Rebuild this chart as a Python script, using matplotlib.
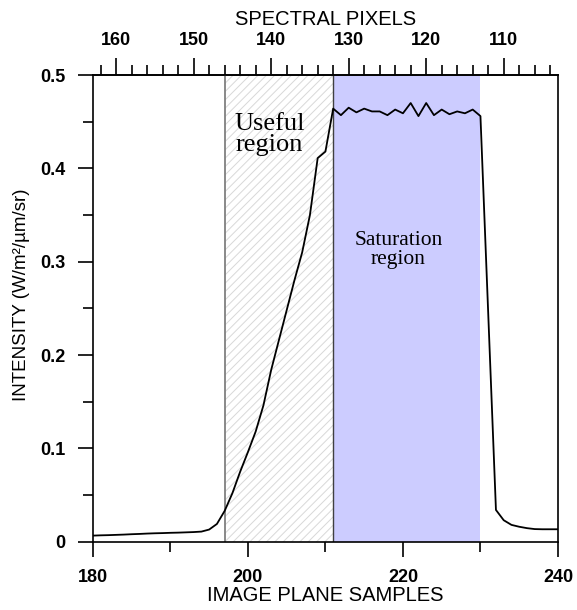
import matplotlib
matplotlib.use("Agg")
import matplotlib.pyplot as plt
from matplotlib.ticker import MultipleLocator, FixedLocator

plt.rcParams['font.family'] = ['Liberation Sans', 'DejaVu Sans']
plt.rcParams['hatch.linewidth'] = 0.7

# image plane samples and measured intensity
samples = list(range(180, 241))
intensity = [
    0.0065, 0.0068, 0.0070, 0.0073, 0.0076, 0.0080, 0.0083, 0.0087, 0.0090, 0.0092,
    0.0095, 0.0097, 0.0100, 0.0103, 0.0108, 0.0130, 0.0190, 0.0330, 0.0520, 0.0750,
    0.0960, 0.1180, 0.1460, 0.1840, 0.2160, 0.2480, 0.2800, 0.3100, 0.3500, 0.4110,
    0.4180, 0.4640, 0.4570, 0.4650, 0.4600, 0.4640, 0.4610, 0.4610, 0.4570, 0.4630,
    0.4590, 0.4700, 0.4560, 0.4700, 0.4570, 0.4630, 0.4580, 0.4610, 0.4590, 0.4630,
    0.4560, 0.2450, 0.0340, 0.0230, 0.0180, 0.0160, 0.0145, 0.0135, 0.0133, 0.0133,
    0.0133,
]

useful_region = (197, 211)
saturation_region = (211, 230)
pixel_offset = 343  # spectral pixel = offset - sample

x_major = [180, 200, 220, 240]
x_minor = [190, 210, 230]
y_major = [0, 0.1, 0.2, 0.3, 0.4, 0.5]
y_labels = ['0', '0.1', '0.2', '0.3', '0.4', '0.5']
spec_major = [160, 150, 140, 130, 120, 110]

fig = plt.figure(figsize=(5.77, 6.10), dpi=100)
ax = fig.add_axes([0.161, 0.112, 0.806, 0.765])

# regions
ax.axvspan(*useful_region, facecolor='white', edgecolor='#d8d8d8', hatch='////',
           linewidth=0, zorder=0)
ax.axvspan(*saturation_region, facecolor='#ccccff', edgecolor='none', zorder=0)
ax.axvline(useful_region[0], color='#808080', lw=1.3, zorder=1)
ax.axvline(useful_region[1], color='#404040', lw=1.0, zorder=1)

ax.plot(samples, intensity, color='black', lw=1.3, zorder=3)

ax.text(202.8, 0.436, 'Useful\nregion', family=['Liberation Serif'], fontsize=19,
        ha='center', va='center', linespacing=0.95)
ax.text(219.4, 0.312, 'Saturation\nregion', family=['Liberation Serif'], fontsize=15.5,
        ha='center', va='center', linespacing=1.0)

ax.set_xlim(180, 240)
ax.set_ylim(0, 0.5)

ax.xaxis.set_major_locator(FixedLocator(x_major))
ax.xaxis.set_minor_locator(FixedLocator(x_minor))
ax.set_yticks(y_major)
ax.set_yticklabels(y_labels)
ax.yaxis.set_minor_locator(MultipleLocator(0.05))

ax.tick_params(axis='both', which='major', direction='out', length=11, width=1.2,
               labelsize=13)
ax.tick_params(axis='both', which='minor', direction='out', length=7, width=1.2)
ax.tick_params(axis='x', which='major', pad=9)
ax.tick_params(axis='y', which='major', pad=9)
ax.tick_params(top=False, right=False)
for lab in ax.get_xticklabels() + ax.get_yticklabels():
    lab.set_fontweight('bold')

for sp in ax.spines.values():
    sp.set_linewidth(1.2)

ax.set_xlabel('IMAGE PLANE SAMPLES', fontsize=14.5, labelpad=0)
ax.set_ylabel('INTENSITY (W/m²/µm/sr)', fontsize=13.5)
ax.yaxis.set_label_coords(-0.135, 0.53)

top = ax.secondary_xaxis('top', functions=(lambda s: pixel_offset - s,
                                           lambda p: pixel_offset - p))
top.xaxis.set_major_locator(FixedLocator(spec_major))
top.xaxis.set_minor_locator(MultipleLocator(2))
top.tick_params(which='major', direction='out', length=12, width=1.2,
                labelsize=13, pad=7)
top.tick_params(which='minor', direction='out', length=7, width=1.2)
for lab in top.get_xticklabels():
    lab.set_fontweight('bold')
top.spines['top'].set_linewidth(1.2)
top.set_xlabel('SPECTRAL PIXELS', fontsize=14.5, labelpad=5)

fig.savefig('out.png', dpi=100)
